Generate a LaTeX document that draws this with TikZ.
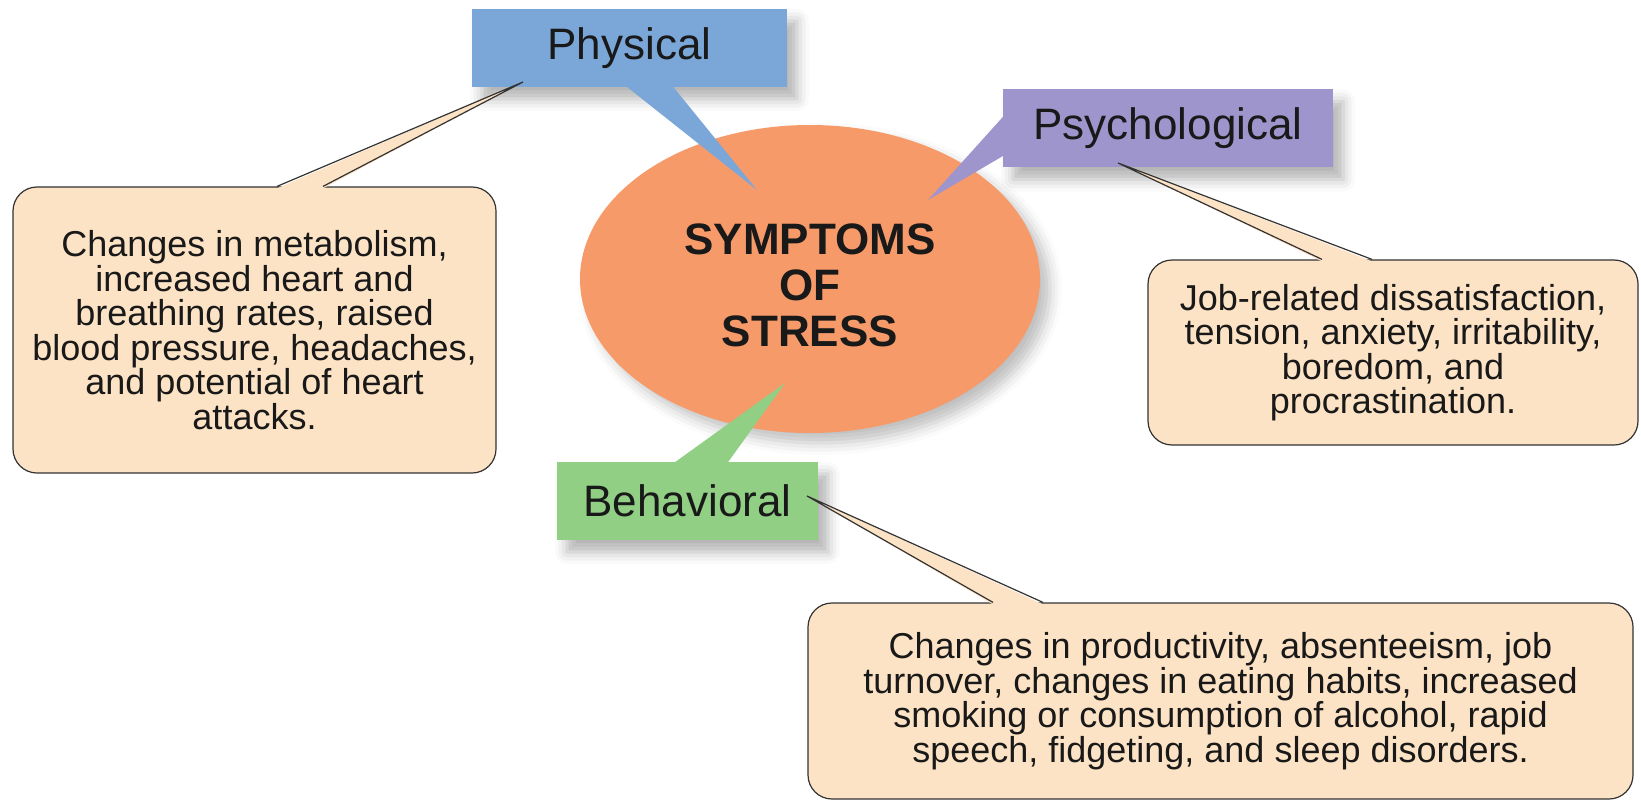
\documentclass[tikz,border=0pt]{standalone}
\usepackage{fontspec}
\setmainfont{Liberation Sans}
\usetikzlibrary{positioning,shapes.geometric,shadows.blur}

\definecolor{hubfill}{RGB}{247,154,106}
\definecolor{physblue}{RGB}{122,167,216}
\definecolor{psychviolet}{RGB}{158,149,204}
\definecolor{behavgreen}{RGB}{144,207,132}
\definecolor{notefill}{RGB}{253,227,197}

\begin{document}
\begin{tikzpicture}[x=0.5pt, y=0.5pt, every node/.style={text=black!90},
  hub/.style={ellipse, fill=hubfill, minimum width=230pt, minimum height=154pt, align=center, font=\bfseries\fontsize{22}{23}\selectfont, blur shadow={shadow xshift=5pt, shadow yshift=-5pt, shadow opacity=25, shadow blur radius=6pt}},
  tag/.style={fill=#1, minimum height=39pt, inner sep=0pt, font=\fontsize{22}{24}\selectfont, blur shadow={shadow xshift=5pt, shadow yshift=-6pt, shadow opacity=30, shadow blur radius=6pt}},
  note/.style={draw=black!80, line width=0.6pt, fill=notefill, rounded corners=12pt, align=center, inner sep=0pt, font=\fontsize{18}{17.25}\selectfont},
  pin/.style={draw=black!80, line width=0.6pt}]
\useasboundingbox (0,0) rectangle (1641,-802);
\node[hub] (hub) at (810,-279) {\rule{0pt}{22pt}SYMPTOMS\\OF\\STRESS};
\node[tag=physblue, minimum width=157.5pt] (phys) at (629.5,-48) {Physical};
\node[tag=psychviolet, minimum width=165pt] (psych) at (1168,-128.5) {Psychological};
\node[tag=behavgreen, minimum width=130.5pt] (behav) at (687.5,-501) {Behavioral};
% tips of the coloured tails
\coordinate (physTip) at (757,-190);
\coordinate (psychTip) at (928,-200);
\coordinate (behavTip) at (785,-383);
\fill[physblue] ([xshift=-2.25pt, yshift=1pt]phys.south) -- (physTip) -- ([xshift=21.25pt, yshift=1pt]phys.south) -- cycle;
\fill[psychviolet] ([xshift=1pt, yshift=6.75pt]psych.west) -- (psychTip) -- ([xshift=1pt, yshift=-13.25pt]psych.west) -- cycle;
\fill[behavgreen] ([xshift=-7.25pt, yshift=-1pt]behav.north) -- (behavTip) -- ([xshift=19.75pt, yshift=-1pt]behav.north) -- cycle;
% callout boxes
\node[note, minimum width=241.5pt, minimum height=143pt] (physNote) at (254.5,-330) {Changes in metabolism,\\increased heart and\\breathing rates, raised\\blood pressure, headaches,\\and potential of heart\\attacks.};
\node[note, minimum width=245pt, minimum height=92.5pt] (psychNote) at (1393,-352.5) {Job-related dissatisfaction,\\tension, anxiety, irritability,\\boredom, and\\procrastination.};
\node[note, minimum width=412.5pt, minimum height=98pt] (behavNote) at (1220.5,-701) {Changes in productivity, absenteeism, job\\turnover, changes in eating habits, increased\\smoking or consumption of alcohol, rapid\\speech, fidgeting, and sleep disorders.};
\coordinate (physPin) at (523,-82);
\coordinate (psychPin) at (1118,-163);
\coordinate (behavPin) at (807,-496);
\fill[notefill] ([xshift=11.25pt, yshift=-1pt]physNote.north) -- (physPin) -- ([xshift=34.25pt, yshift=-1pt]physNote.north) -- cycle;
\draw[pin] ([xshift=11.25pt]physNote.north) -- (physPin) -- ([xshift=34.25pt]physNote.north);
\fill[notefill] ([xshift=-35.5pt, yshift=-1pt]psychNote.north) -- (psychPin) -- ([xshift=-10.5pt, yshift=-1pt]psychNote.north) -- cycle;
\draw[pin] ([xshift=-35.5pt]psychNote.north) -- (psychPin) -- ([xshift=-10.5pt]psychNote.north);
\fill[notefill] ([xshift=-113.75pt, yshift=-1pt]behavNote.north) -- (behavPin) -- ([xshift=-88.75pt, yshift=-1pt]behavNote.north) -- cycle;
\draw[pin] ([xshift=-113.75pt]behavNote.north) -- (behavPin) -- ([xshift=-88.75pt]behavNote.north);
\end{tikzpicture}
\end{document}
